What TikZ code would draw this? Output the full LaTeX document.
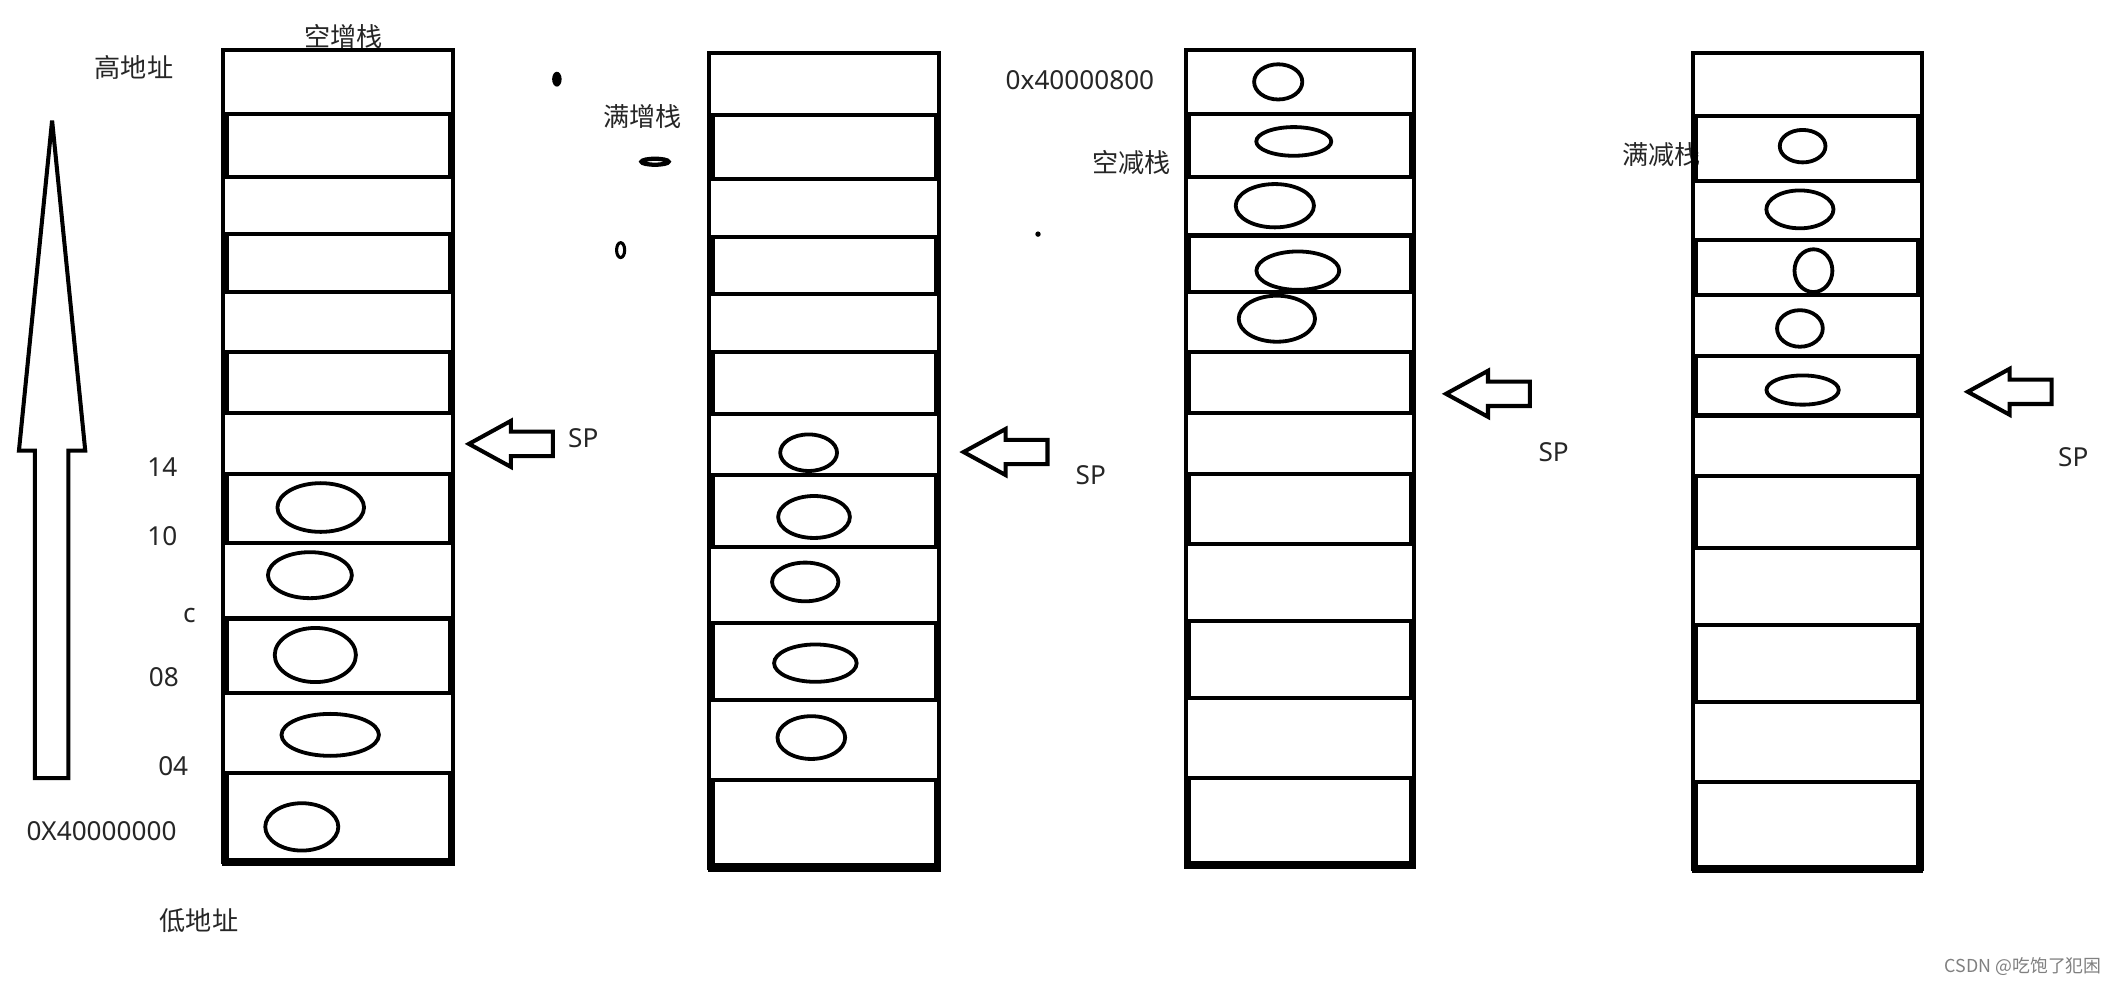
\documentclass[tikz,border=0pt]{standalone}
\usepackage{fontspec}
\setmainfont{Noto Sans}
\newfontfamily\cjkfont{Noto Sans CJK SC}
\tikzset{
    cellbox/.style={draw=black, line width=1.7pt},
    slot/.style={draw=black, line width=1.6pt},
    memlabel/.style={font=\fontsize{11}{13}\selectfont, text=black!85, inner sep=0pt},
    cjklabel/.style={memlabel, font=\fontsize{11}{13}\selectfont\cjkfont},
    sparrow/.pic={
        \draw[cellbox, line join=miter] (0,0) -- (31,-17) -- (31,-9) -- (62,-9) -- (62,9) -- (31,9) -- (31,17) -- cycle;
    }
}

\begin{document}
\begin{tikzpicture}[x=0.02cm, y=-0.02cm]
        \fill[white] (0,0) rectangle (1568,728);
        \useasboundingbox (0,0) rectangle (1568,728);

        % ---------------- address axis ----------------
        \draw[cellbox, line join=miter] (38.5,89) -- (63,333) -- (50.5,333) -- (50.5,575) -- (25.7,575) -- (25.7,333) -- (14,333) -- cycle;
        \node[cjklabel] (lblHigh) at (99,50) {高地址};
        \node[cjklabel] (lblLow) at (147,680) {低地址};
        \node[memlabel] (adr14) at (120,345) {14};
        \node[memlabel] (adr10) at (120,396) {10};
        \node[memlabel] (adrC) at (140,455) {c};
        \node[memlabel] (adr08) at (121,500) {08};
        \node[memlabel] (adr04) at (128,566) {04};
        \node[memlabel] (adrBase) at (75,614) {0X40000000};

        % ---------------- 空增栈 ----------------
        \node[cjklabel] (nameEA) at (254,27) {空增栈};
        \foreach \yb [count=\k, remember=\yb as \ya (initially 37)] in {84,131,173,216,260,305,350,401,457,512,571,637} {
            \draw[cellbox] (165,\ya) rectangle (335,\yb);
            \ifodd\k\else \draw[cellbox] (167.5,\ya) rectangle (332.5,\yb); \fi
        }
        \draw[line width=3.6pt] (164,637) -- (336,637);
        % pushed words
        \draw[slot] (237,375) ellipse [x radius=32, y radius=18];
        \draw[slot] (229,425) ellipse [x radius=31, y radius=17];
        \draw[slot] (233,484) ellipse [x radius=30, y radius=20];
        \draw[slot] (244,543) ellipse [x radius=36, y radius=15.5];
        \draw[slot] (223,611) ellipse [x radius=27, y radius=17.5];
        \pic at (346.5,328) {sparrow};
        \node[memlabel] (spEA) at (431,324) {SP};

        % stray marks
        \fill (411.5,58.5) ellipse [x radius=3.5, y radius=5.5];
        \draw[line width=1.8pt] (484,119.5) ellipse [x radius=10, y radius=2.2];
        \draw[line width=1.3pt] (458.6,184.8) ellipse [x radius=3, y radius=5.5];
        \fill (767,173) circle [radius=2];

        % ---------------- 满增栈 ----------------
        \node[cjklabel] (nameFA) at (475,86) {满增栈};
        \foreach \yb [count=\k, remember=\yb as \ya (initially 39)] in {85,132,175,217,260,306,351,404,460,517,576,641} {
            \draw[cellbox] (524,\ya) rectangle (694,\yb);
            \ifodd\k\else \draw[cellbox] (526.5,\ya) rectangle (691.5,\yb); \fi
        }
        \draw[line width=3.6pt] (523,641) -- (695,641);
        \draw[slot] (597.5,334.5) ellipse [x radius=21, y radius=13.5];
        \draw[slot] (601.5,382) ellipse [x radius=26.5, y radius=15.5];
        \draw[slot] (595,430) ellipse [x radius=24.5, y radius=14.3];
        \draw[slot] (602.5,490) ellipse [x radius=30.5, y radius=13.8];
        \draw[slot] (599.5,545) ellipse [x radius=25, y radius=15.8];
        \pic at (712,334) {sparrow};
        \node[memlabel] (spFA) at (806,351) {SP};

        % ---------------- 空减栈 ----------------
        \node[memlabel] (topED) at (798,59) {0x40000800};
        \node[cjklabel] (nameED) at (836,120) {空减栈};
        \foreach \yb [count=\k, remember=\yb as \ya (initially 37)] in {84,131,174,216,260,305,350,402,459,516,575,639} {
            \draw[cellbox] (876,\ya) rectangle (1045,\yb);
            \ifodd\k\else \draw[cellbox] (878.5,\ya) rectangle (1042.5,\yb); \fi
        }
        \draw[line width=3.6pt] (875,639) -- (1046,639);
        \draw[slot] (944.5,60.5) ellipse [x radius=17.8, y radius=13];
        \draw[slot] (956,104.5) ellipse [x radius=27.7, y radius=10.6];
        \draw[slot] (942,152) ellipse [x radius=28.9, y radius=16];
        \draw[slot] (959,200) ellipse [x radius=30.6, y radius=14.2];
        \draw[slot] (943.5,235.5) ellipse [x radius=28.2, y radius=17];
        \pic at (1068.5,291) {sparrow};
        \node[memlabel] (spED) at (1148,334) {SP};

        % ---------------- 满减栈 ----------------
        \node[cjklabel] (nameFD) at (1228,114.5) {满减栈};
        \foreach \yb [count=\k, remember=\yb as \ya (initially 39)] in {86,134,177,218,263,307,352,405,462,519,578,642} {
            \draw[cellbox] (1251,\ya) rectangle (1420,\yb);
            \ifodd\k\else \draw[cellbox] (1253.5,\ya) rectangle (1417.5,\yb); \fi
        }
        \draw[line width=3.6pt] (1250,642) -- (1421,642);
        \draw[slot] (1332,108) ellipse [x radius=16.9, y radius=12];
        \draw[slot] (1330,154.7) ellipse [x radius=24.8, y radius=14];
        \draw[slot] (1340,200) ellipse [x radius=14, y radius=15.8];
        \draw[slot] (1330,242.7) ellipse [x radius=16.9, y radius=13.5];
        \draw[slot] (1332,288.2) ellipse [x radius=26.7, y radius=10.8];
        \pic at (1454,289.5) {sparrow};
        \node[memlabel] (spFD) at (1532,337.5) {SP};

        \node[cjklabel, font=\fontsize{7.5}{9}\selectfont\cjkfont, text=black!50] (wmark) at (1495,714) {CSDN @吃饱了犯困};
    \end{tikzpicture}
\end{document}
